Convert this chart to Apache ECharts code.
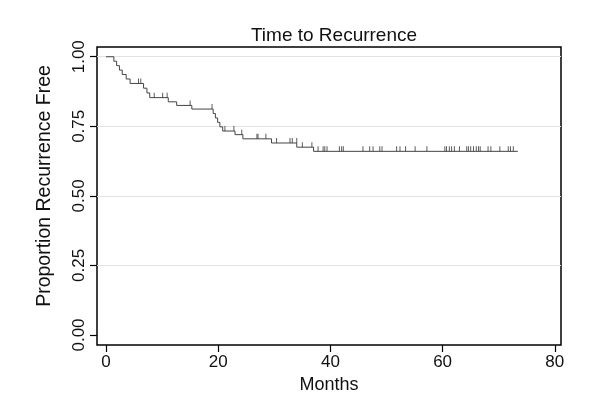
<!DOCTYPE html>
<html>
<head>
<meta charset="utf-8">
<script src="https://cdn.jsdelivr.net/npm/echarts@6/dist/echarts.min.js"></script>
<style>
html,body{margin:0;padding:0;background:#fff;}
#chart{width:600px;height:419px;}
</style>
</head>
<body>
<div id="chart"></div>
<script>
// Kaplan-Meier: event times (months) and proportion free right after each event
var eventMonths = [0, 1.4, 1.9, 2.4, 2.9, 3.6, 4.3, 6.7, 7.3, 7.8, 11.1, 12.6, 15.3, 19.1, 19.5, 19.9, 20.3, 20.8, 23.0, 24.4, 29.5, 34.0, 37.0, 73.4];
var eventSurv = [1, 0.984, 0.968, 0.952, 0.936, 0.920, 0.904, 0.887, 0.870, 0.853, 0.838, 0.825, 0.812, 0.796, 0.780, 0.764, 0.748, 0.733, 0.720, 0.705, 0.690, 0.675, 0.660, 0.660];

// censored observations (tick marks)
var censorMonths = [5.8, 6.2, 8.6, 10.1, 10.9, 15.0, 18.9, 21.2, 22.8, 24.2, 26.9, 27.1, 28.5, 30.4, 32.8, 33.2, 34.0, 35.0, 36.7,
    37.8, 38.7, 39.0, 39.4, 41.6, 42.0, 42.3, 45.8, 47.0, 47.6, 48.8, 49.2, 51.8, 52.4, 53.4, 55.1, 57.2,
    60.4, 60.7, 61.2, 61.6, 62.1, 63.0, 64.3, 64.6, 65.0, 65.5, 66.0, 66.4, 66.7, 68.1, 68.6, 70.2, 71.7, 72.1, 72.6];
var censorSurv = [0.904, 0.904, 0.853, 0.853, 0.853, 0.825, 0.812, 0.733, 0.733, 0.720, 0.705, 0.705, 0.705, 0.690, 0.690, 0.690, 0.690, 0.675, 0.675,
    0.660, 0.660, 0.660, 0.660, 0.660, 0.660, 0.660, 0.660, 0.660, 0.660, 0.660, 0.660, 0.660, 0.660, 0.660, 0.660, 0.660,
    0.660, 0.660, 0.660, 0.660, 0.660, 0.660, 0.660, 0.660, 0.660, 0.660, 0.660, 0.660, 0.660, 0.660, 0.660, 0.660, 0.660, 0.660, 0.660];

var xTicks = [0, 20, 40, 60, 80];
var yTicks = [0, 0.25, 0.5, 0.75, 1];
var gridLines = [0.25, 0.5, 0.75, 1];

var chart = echarts.init(document.getElementById('chart'));
var font = 'Liberation Sans, Arial, sans-serif';

chart.setOption({
    animation: false,
    title: {
        text: 'Time to Recurrence',
        left: 329,
        top: 21,
        textAlign: 'center',
        textStyle: {fontFamily: font, fontSize: 19, fontWeight: 'normal', color: '#111'}
    },
    grid: {
        left: 97, right: 39, top: 47, bottom: 74,
        show: true,
        borderColor: '#000',
        borderWidth: 1.5
    },
    xAxis: {
        type: 'value',
        min: -1.6,
        max: 81.1,
        name: 'Months',
        nameLocation: 'middle',
        nameGap: 31,
        nameTextStyle: {fontFamily: font, fontSize: 18, color: '#111'},
        axisLine: {show: false, onZero: false},
        axisTick: {show: true, inside: false, customValues: xTicks, length: 7, lineStyle: {color: '#000', width: 1.2}},
        axisLabel: {customValues: xTicks, margin: 9, fontFamily: font, fontSize: 17, color: '#111'},
        splitLine: {show: false}
    },
    yAxis: {
        type: 'value',
        min: -0.036,
        max: 1.035,
        name: 'Proportion Recurrence Free',
        nameLocation: 'middle',
        nameGap: 42,
        nameTextStyle: {fontFamily: font, fontSize: 19.5, color: '#111', padding: [0, 0, 0, 20]},
        axisLine: {show: false, onZero: false},
        axisTick: {show: true, inside: false, customValues: yTicks, length: 7, lineStyle: {color: '#000', width: 1.2}},
        axisLabel: {
            customValues: yTicks,
            rotate: 90,
            margin: 9,
            fontFamily: font, fontSize: 17, color: '#111',
            formatter: function (v) { return v.toFixed(2); }
        },
        splitLine: {show: false}
    },
    series: [
        {
            type: 'line',
            step: 'end',
            showSymbol: false,
            data: eventMonths.map(function (m, i) { return [m, eventSurv[i]]; }),
            lineStyle: {color: '#444', width: 1},
            z: 3,
            markLine: {
                silent: true,
                symbol: 'none',
                label: {show: false},
                lineStyle: {color: '#e2e2e2', width: 1, type: 'solid'},
                data: gridLines.map(function (v) { return {yAxis: v}; }),
                z: 1
            }
        },
        {
            type: 'scatter',
            symbol: 'rect',
            symbolSize: [1, 5],
            symbolOffset: [0, -2.5],
            itemStyle: {color: '#333'},
            data: censorMonths.map(function (m, i) { return [m, censorSurv[i]]; }),
            z: 4
        }
    ]
});
</script>
</body>
</html>
